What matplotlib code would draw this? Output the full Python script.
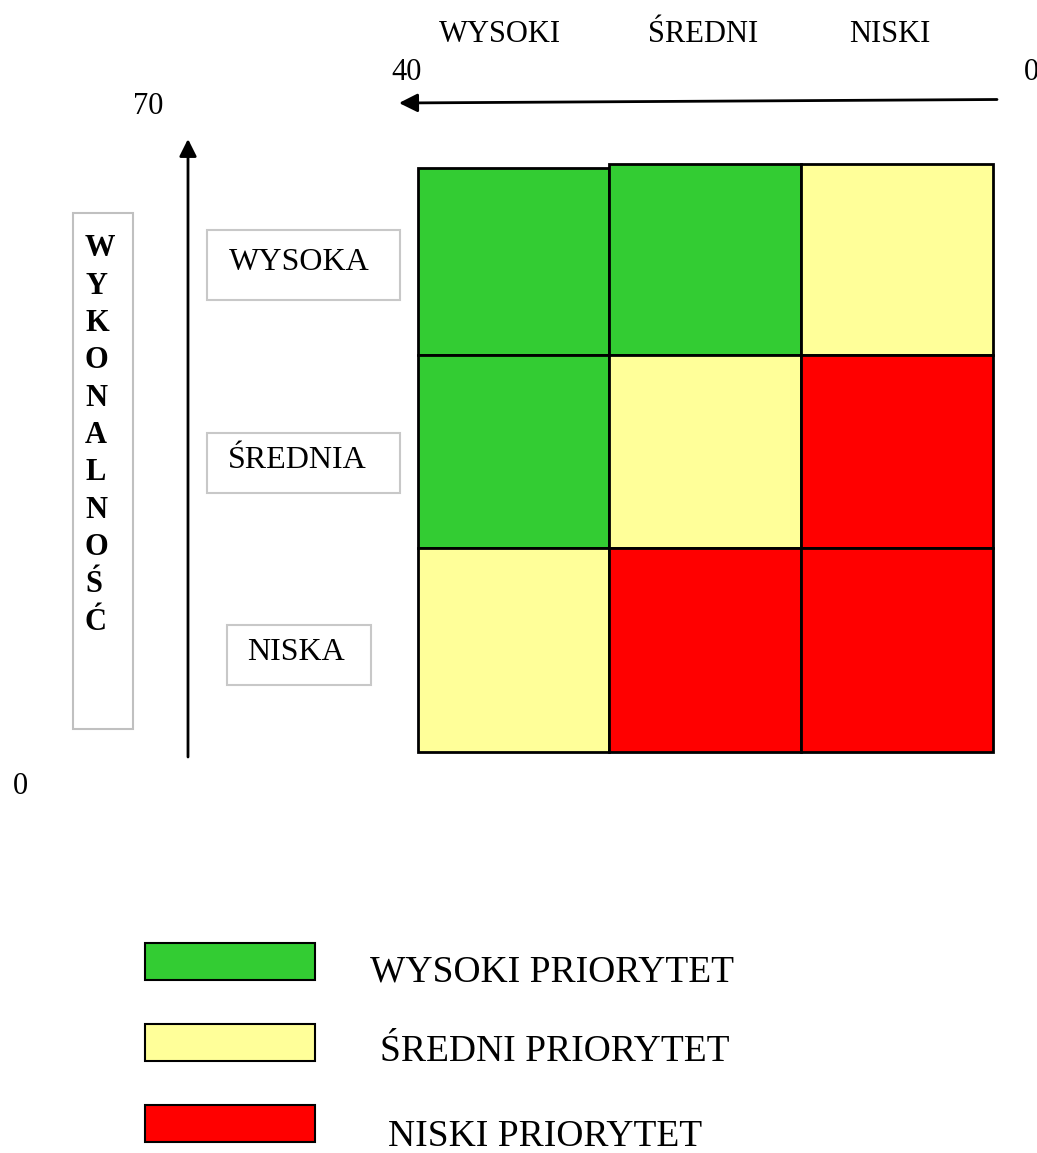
import numpy as np
import matplotlib
matplotlib.use("Agg")
import matplotlib.pyplot as plt
from matplotlib.patches import Rectangle

plt.rcParams['font.family'] = ['Liberation Serif', 'DejaVu Serif']

# data
col_levels = ["WYSOKI", "ŚREDNI", "NISKI"]          # horizontal axis categories
row_levels = ["WYSOKA", "ŚREDNIA", "NISKA"]         # vertical axis categories
y_title = "WYKONALNOŚĆ"
priority = np.array([[0, 0, 1],
                     [0, 1, 2],
                     [1, 2, 2]])                     # 0 high, 1 medium, 2 low
priority_names = ["WYSOKI PRIORYTET", "ŚREDNI PRIORYTET", "NISKI PRIORYTET"]
priority_colors = ["#33CC33", "#FFFF99", "#FF0000"]
x_range = [40, 0]
y_range = [70, 0]

# layout (pixels, y downwards)
W, H = 1037, 1153
col_edges = [418, 609, 801, 993]
row_edges = [164, 355, 548, 752]

fig = plt.figure(figsize=(W / 100, H / 100), dpi=100)
ax = fig.add_axes([0, 0, 1, 1])
ax.set_xlim(0, W)
ax.set_ylim(H, 0)
ax.axis("off")

# matrix cells
for r in range(3):
    for c in range(3):
        top = row_edges[r] + (4 if (r, c) == (0, 0) else 0)
        ax.bar(col_edges[c], row_edges[r + 1] - top, bottom=top,
               width=col_edges[c + 1] - col_edges[c], align="edge",
               color=priority_colors[priority[r, c]], edgecolor="black", linewidth=2)

# column headers
for c, name in enumerate(col_levels):
    xc = [500, 703, 890][c]
    ax.text(xc, 34, name, fontsize=22, ha="center", va="center")

# horizontal arrow (40 <- 0)
ax.annotate("", xy=(399, 103), xytext=(997, 99.5),
            arrowprops=dict(arrowstyle="-|>", color="black", lw=2,
                            mutation_scale=28, shrinkA=0, shrinkB=0))
ax.text(407, 72, str(x_range[0]), fontsize=22, ha="center", va="center")
ax.text(1024, 72, str(x_range[1]), fontsize=22, ha="left", va="center")

# vertical arrow (0 -> 70)
ax.annotate("", xy=(188, 139), xytext=(188, 757),
            arrowprops=dict(arrowstyle="-|>", color="black", lw=2,
                            mutation_scale=26, shrinkA=0, shrinkB=0))
ax.text(148, 106, str(y_range[0]), fontsize=22, ha="center", va="center")
ax.text(20, 787, str(y_range[1]), fontsize=22, ha="center", va="center")

# vertical title box
ax.add_patch(Rectangle((73, 213), 60, 516, facecolor="white", edgecolor="#c0c0c0", lw=1.5))
for i, ch in enumerate(y_title):
    ax.text(85, 249 + i * 37.3, ch, fontsize=22, fontweight="bold", ha="left", va="center")

# row label boxes
boxes = [(207, 230, 193, 70), (207, 433, 193, 60), (227, 625, 144, 60)]
text_x = [229, 228, 247]
for name, (bx, by, bw, bh), tx in zip(row_levels, boxes, text_x):
    ax.add_patch(Rectangle((bx, by), bw, bh, facecolor="white", edgecolor="#c8c8c8", lw=1.5))
    ax.text(tx, by + bh / 2 - 2, name, fontsize=23, ha="left", va="center")

# legend
sw_y = [943, 1024, 1105]
txt_x = [370, 380, 388]
txt_y = [972, 1052, 1137]
for i, name in enumerate(priority_names):
    ax.add_patch(Rectangle((145, sw_y[i]), 170, 37, facecolor=priority_colors[i],
                           edgecolor="black", lw=1.5))
    ax.text(txt_x[i], txt_y[i], name, fontsize=27, ha="left", va="center")

fig.savefig("out.png", dpi=100, facecolor="white")
